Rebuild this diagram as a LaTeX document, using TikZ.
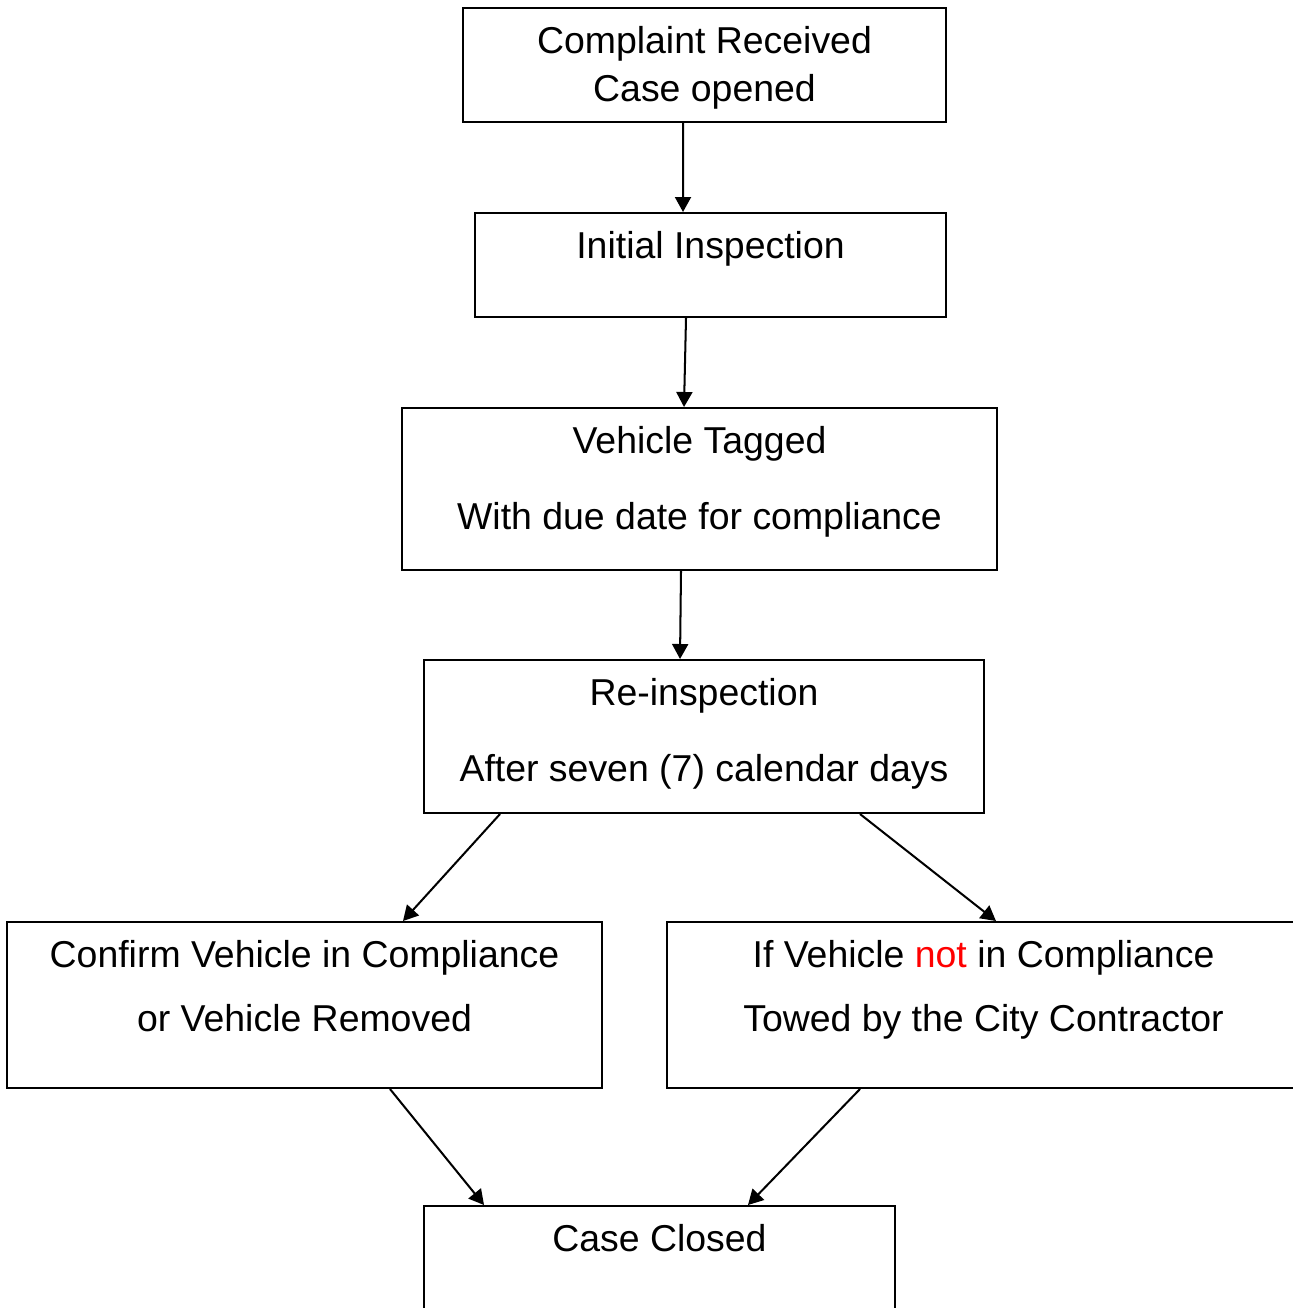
\documentclass[tikz,border=0pt]{standalone}
\usepackage{fontspec}
\setmainfont{Liberation Sans}
\usetikzlibrary{arrows.meta}
\begin{document}
\begin{tikzpicture}[x=0.02cm,y=-0.02cm]
\tikzstyle{box}=[rectangle,draw,line width=1.15pt,inner sep=0pt]
\tikzstyle{txt}=[anchor=base,inner sep=0pt,font=\fontsize{21.3pt}{25pt}\selectfont]
\tikzstyle{arr}=[line width=1.15pt,-{Triangle[length=0.3cm,width=0.32cm]}]
\useasboundingbox (0,0) rectangle (1293,1308);
\clip (0,0) rectangle (1293,1308);
\node[box,minimum width=9.66cm,minimum height=2.28cm] at (704.5,65) (cr) {};
\node[box,minimum width=9.42cm,minimum height=2.08cm] at (710.5,265) (init) {};
\node[box,minimum width=11.9cm,minimum height=3.24cm] at (699.5,489) (tag) {};
\node[box,minimum width=11.2cm,minimum height=3.06cm] at (704,736.5) (reinsp) {};
\node[box,minimum width=11.9cm,minimum height=3.32cm] at (304.5,1005) (conf) {};
\node[box,minimum width=12.66cm,minimum height=3.32cm] at (983.5,1005) (notc) {};
\node[box,minimum width=9.42cm,minimum height=3cm] at (659.5,1281) (closed) {};
% box texts
\node[txt] at ([yshift=-0.93cm]cr.north) (crA) {Complaint Received};
\node[txt] at ([yshift=-0.96cm]crA.base) (crB) {Case opened};
\node[txt] at ([yshift=-0.93cm]init.north) (initA) {Initial Inspection};
\node[txt] at ([yshift=-0.93cm]tag.north) (tagA) {Vehicle Tagged};
\node[txt] at ([yshift=-1.52cm]tagA.base) (tagB) {With due date for compliance};
\node[txt] at ([yshift=-0.93cm]reinsp.north) (reinspA) {Re-inspection};
\node[txt] at ([yshift=-1.52cm]reinspA.base) (reinspB) {After seven (7) calendar days};
\node[txt] at ([yshift=-0.93cm]conf.north) (confA) {Confirm Vehicle in Compliance};
\node[txt] at ([yshift=-1.28cm]confA.base) (confB) {or Vehicle Removed};
\node[txt] at ([yshift=-0.93cm]notc.north) (notcA) {If Vehicle {\color{red}not} in Compliance};
\node[txt] at ([yshift=-1.28cm]notcA.base) (notcB) {Towed by the City Contractor};
\node[txt] at ([yshift=-0.93cm]closed.north) (closedA) {Case Closed};
% arrows
\draw[arr] ([xshift=-0.43cm]cr.south) -- ([xshift=-0.55cm]init.north);
\draw[arr] ([xshift=-0.49cm]init.south) -- ([xshift=-0.31cm]tag.north);
\draw[arr] ([xshift=-0.37cm]tag.south) -- ([xshift=-0.48cm]reinsp.north);
\draw[arr] ([xshift=-4.08cm]reinsp.south) -- ([xshift=1.97cm]conf.north);
\draw[arr] ([xshift=3.12cm]reinsp.south) -- ([xshift=0.25cm]notc.north);
\draw[arr] ([xshift=1.71cm]conf.south) -- ([xshift=-3.51cm]closed.north);
\draw[arr] ([xshift=-2.47cm]notc.south) -- ([xshift=1.77cm]closed.north);
\end{tikzpicture}
\end{document}
